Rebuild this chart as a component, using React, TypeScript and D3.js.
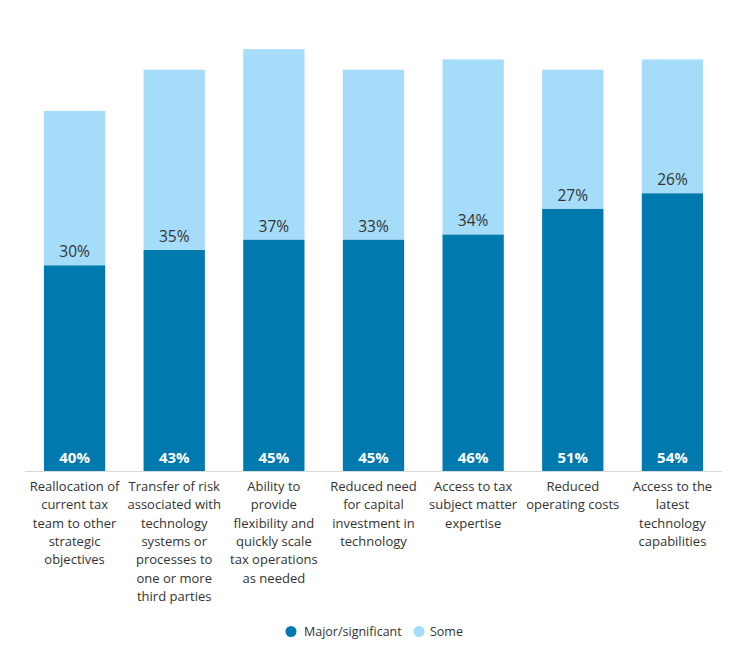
import { scaleBand, scaleLinear, stack } from "d3";

const categories = [
  "Reallocation of current tax team to other strategic objectives",
  "Transfer of risk associated with technology systems or processes to one or more third parties",
  "Ability to provide flexibility and quickly scale tax operations as needed",
  "Reduced need for capital investment in technology",
  "Access to tax subject matter expertise",
  "Reduced operating costs",
  "Access to the latest technology capabilities",
];

// label lines as wrapped in the original
const categoryLines = [
  ["Reallocation of", "current tax", "team to other", "strategic", "objectives"],
  ["Transfer of risk", "associated with", "technology", "systems or", "processes to", "one or more", "third parties"],
  ["Ability to", "provide", "flexibility and", "quickly scale", "tax operations", "as needed"],
  ["Reduced need", "for capital", "investment in", "technology"],
  ["Access to tax", "subject matter", "expertise"],
  ["Reduced", "operating costs"],
  ["Access to the", "latest", "technology", "capabilities"],
];

const major = [40, 43, 45, 45, 46, 51, 54];
const some = [30, 35, 37, 33, 34, 27, 26];

const seriesNames = ["Major/significant", "Some"];
const colors = ["#0079ae", "#a5dcf9"];

const W = 745;
const H = 660;

export default function App() {
  const rows = categories.map((c, i) => ({ cat: c, major: major[i], some: some[i] }));
  const series = stack<any>().keys(["major", "some"])(rows);

  const x = scaleBand<string>().domain(categories).range([25, 722]).paddingInner(0.385).paddingOuter(0.19);
  const y = scaleLinear().domain([0, 90]).range([471, 8]);

  return (
    <svg width={W} height={H} style={{ position: "absolute", left: 0, top: 0, fontFamily: "'Open Sans', sans-serif" }}>
      <rect width={W} height={H} fill="#fff" />
      {series.map((s, si) => (
        <g key={si} fill={colors[si]}>
          {s.map((d, i) => (
            <rect
              key={i}
              x={x(categories[i])}
              width={x.bandwidth()}
              y={y(d[1])}
              height={y(d[0]) - y(d[1])}
            />
          ))}
        </g>
      ))}
      <line x1={25} x2={722} y1={471.5} y2={471.5} stroke="#d9d9d9" strokeWidth={1} />

      {/* value labels */}
      {rows.map((r, i) => {
        const cx = (x(r.cat) ?? 0) + x.bandwidth() / 2;
        return (
          <g key={i} textAnchor="middle">
            <text x={cx} y={y(0) - 8} fill="#fff" fontSize={15} fontWeight={700}>
              {r.major}%
            </text>
            <text x={cx} y={y(r.major) - 8} fill="#333" fontSize={15.5}>
              {r.some}%
            </text>
          </g>
        );
      })}

      {/* category labels */}
      {categoryLines.map((lines, i) => {
        const cx = (x(categories[i]) ?? 0) + x.bandwidth() / 2;
        return (
          <text key={i} x={cx} y={491} textAnchor="middle" fill="#333" fontSize={13}>
            {lines.map((l, j) => (
              <tspan key={j} x={cx} dy={j === 0 ? 0 : 18.3}>
                {l}
              </tspan>
            ))}
          </text>
        );
      })}

      {/* legend */}
      <g fontSize={12.5} fill="#333">
        <circle cx={291} cy={631.5} r={5.5} fill={colors[0]} />
        <text x={304} y={636}>{seriesNames[0]}</text>
        <circle cx={419} cy={631.5} r={5.5} fill={colors[1]} />
        <text x={430} y={636}>{seriesNames[1]}</text>
      </g>
    </svg>
  );
}
